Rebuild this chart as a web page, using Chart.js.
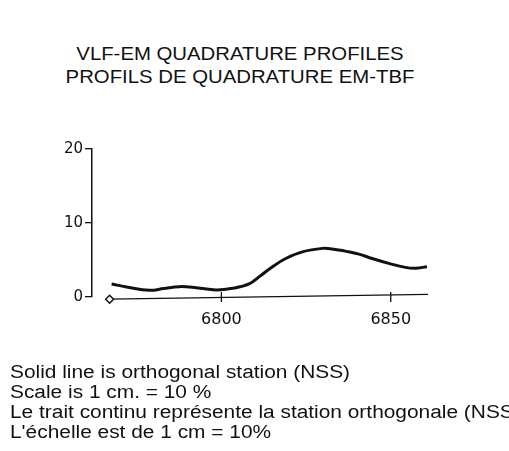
<!DOCTYPE html>
<html>
<head>
<meta charset="utf-8">
<script src="https://cdn.jsdelivr.net/npm/chart.js@4/dist/chart.umd.min.js"></script>
<style>
  html, body { margin: 0; padding: 0; background: #fff; overflow: hidden; }
  #wrap { position: relative; width: 509px; height: 451px; overflow: hidden; }
  #profile { position: absolute; left: 0; top: 0; }
  .title {
    position: absolute; left: 0; top: 43px; width: 480px;
    text-align: center; color: #111;
    font: 18px "Liberation Sans", Arial, sans-serif; line-height: 23px;
    transform: scaleX(1.13); transform-origin: 240px 0;
  }
  .notes {
    position: absolute; left: 10px; top: 362px; color: #111;
    font: 18px "Liberation Sans", Arial, sans-serif; line-height: 20px;
    white-space: nowrap;
    transform: scaleX(1.16); transform-origin: 0 0;
  }
</style>
</head>
<body>
<div id="wrap">
  <div class="title">VLF-EM QUADRATURE PROFILES<br>PROFILS DE QUADRATURE EM-TBF</div>
  <canvas id="profile" width="509" height="451"></canvas>
  <div class="notes">
    Solid line is orthogonal station (NSS)<br>
    Scale is 1 cm. = 10 %<br>
    Le trait continu représente la station orthogonale (NSS)<br>
    L'échelle est de 1 cm = 10%
  </div>
</div>
<script>
// stations le long du profil et valeurs de quadrature (%)
const stations    = [6767.6, 6772, 6778.8, 6783, 6787.6, 6792.6, 6798.4, 6803.3, 6808.2, 6811.2,
                     6815.1, 6819, 6823.9, 6829.8, 6832.7, 6836.5, 6840.6, 6844.5, 6849.4, 6854.3,
                     6857.3, 6860.7];
const quadrature  = [1.76, 1.35, 0.9, 1.15, 1.4, 1.26, 0.95, 1.17, 1.76, 2.75,
                     4.1, 5.2, 6.1, 6.57, 6.5, 6.2, 5.8, 5.2, 4.55, 4.0,
                     3.88, 4.1];

// ligne de base du profil (avec le losange de départ)
const baseStations = [6767, 6861];
const baseValues   = [-0.3, 0.35];

const xTicks = [6800, 6850];
const yTicks = [0, 10, 20];

const INK = '#111';

// petites marques qui traversent la ligne de base
const crossTicks = {
  id: 'crossTicks',
  afterDatasetsDraw(chart) {
    const { ctx, scales: { x, y } } = chart;
    ctx.save();
    ctx.strokeStyle = INK;
    ctx.lineWidth = 1.3;
    xTicks.forEach(v => {
      const px = x.getPixelForValue(v);
      const py = y.getPixelForValue(0);
      ctx.beginPath();
      ctx.moveTo(px, py - 5);
      ctx.lineTo(px, py + 5);
      ctx.stroke();
    });
    ctx.restore();
  }
};

new Chart(document.getElementById('profile'), {
  type: 'scatter',
  data: {
    datasets: [
      {
        data: stations.map((s, i) => ({ x: s, y: quadrature[i] })),
        showLine: true,
        borderColor: INK,
        borderWidth: 3,
        pointRadius: 0,
        tension: 0.4,
        clip: false
      },
      {
        data: baseStations.map((s, i) => ({ x: s, y: baseValues[i] })),
        showLine: true,
        borderColor: INK,
        borderWidth: 1.3,
        pointStyle: 'rectRot',
        pointRadius: [4, 0],
        pointBackgroundColor: '#fff',
        pointBorderColor: INK,
        pointBorderWidth: 1.5,
        clip: false
      }
    ]
  },
  options: {
    responsive: false,
    animation: false,
    layout: { padding: { left: 0, top: 149, right: 81, bottom: 0 } },
    plugins: {
      legend: { display: false },
      tooltip: { enabled: false }
    },
    scales: {
      x: {
        type: 'linear',
        min: 6761.8,
        max: 6861,
        afterBuildTicks: scale => { scale.ticks = xTicks.map(v => ({ value: v })); },
        afterFit: scale => { scale.height = 154; },
        grid: { display: false },
        border: { display: false },
        ticks: {
          color: INK,
          padding: 5,
          font: { family: 'DejaVu Sans', size: 16 },
          callback: v => String(v)
        }
      },
      y: {
        min: 0,
        max: 20,
        afterBuildTicks: scale => { scale.ticks = yTicks.map(v => ({ value: v })); },
        afterFit: scale => { scale.width = 92; },
        grid: {
          drawOnChartArea: false,
          tickLength: 7,
          color: INK,
          lineWidth: 1.3
        },
        border: { display: true, color: INK, width: 1.5 },
        ticks: {
          color: INK,
          padding: 2,
          font: { family: 'DejaVu Sans', size: 15 },
          callback: v => String(v)
        }
      }
    }
  },
  plugins: [crossTicks]
});
</script>
</body>
</html>
